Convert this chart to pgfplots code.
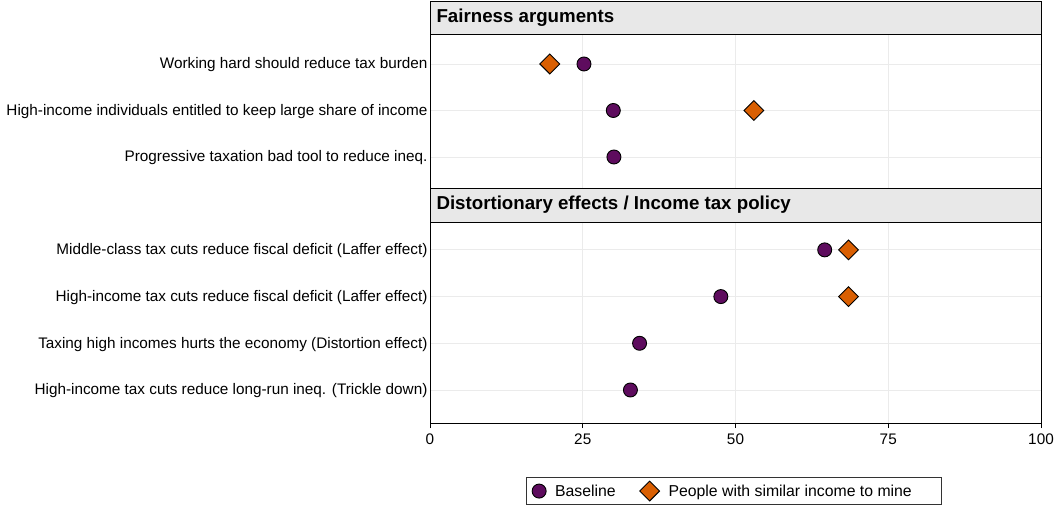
\documentclass[border=0pt]{standalone}
\usepackage{pgfplots}
\pgfplotsset{compat=1.18}
\usepackage{fontspec}
\setmainfont{Liberation Sans}
\definecolor{cpurple}{HTML}{5E0C5E}
\definecolor{corange}{HTML}{D95F02}
\definecolor{hdr}{HTML}{E8E8E8}
\definecolor{grd}{HTML}{EBEBEB}
\begin{document}
\begin{tikzpicture}
\path[use as bounding box] (0pt,0pt) rectangle (1054pt,509pt);
\pgfplotsset{
  panel/.style={
    scale only axis, width=611pt,
    xmin=0, xmax=100, xtick={0,25,50,75,100},
    xmajorgrids, ymajorgrids,
    major grid style={grd, line width=0.8pt},
    axis line style={black, line width=0.9pt},
    ytick style={draw=none},
    tick style={black, line width=0.8pt},
    tick align=outside, major tick length=5pt,
    ticklabel style={font=\fontsize{15.3}{17}\selectfont},
    yticklabel style={xshift=6pt, yshift=-1pt},
    xticklabel style={yshift=-2pt},
    /pgf/number format/assume math mode=true,
    clip=false,
  },
  base/.style={only marks, mark=*, mark size=7pt, mark options={fill=cpurple, draw=black, line width=0.9pt}},
  simi/.style={only marks, mark=square*, mark size=7pt, mark options={fill=corange, draw=black, line width=0.9pt, rotate=45}},
}
\begin{axis}[panel, at={(430pt,321pt)}, anchor=south west, height=154pt,
  ymin=0.333, ymax=3.645, ytick={1,2,3},
  xticklabels={}, xtick style={draw=none},
  yticklabels={Progressive taxation bad tool to reduce ineq.,
    High-income individuals entitled to keep large share of income,
    Working hard should reduce tax burden}]
\addplot[base] coordinates {(25.2,3) (30.0,2) (30.1,1)};
\addplot[simi] coordinates {(19.6,3) (53.0,2)};
\draw[fill=hdr, line width=0.9pt] (rel axis cs:0,1) rectangle ([yshift=33pt]rel axis cs:1,1);
\node[anchor=west, font=\fontsize{18.7}{20}\selectfont\bfseries] at ([xshift=3pt,yshift=16.5pt]rel axis cs:0,1) {Fairness arguments};
\end{axis}
\begin{axis}[panel, at={(430pt,86pt)}, anchor=south west, height=201pt,
  ymin=0.293, ymax=4.597, ytick={1,2,3,4},
  yticklabels={High-income tax cuts reduce long-run ineq. (Trickle down),
    Taxing high incomes hurts the economy (Distortion effect),
    High-income tax cuts reduce fiscal deficit (Laffer effect),
    Middle-class tax cuts reduce fiscal deficit (Laffer effect)},
  legend columns=2,
  legend style={at={(0.4975,-0.27)}, anchor=north, draw=black!80, line width=0.8pt,
    font=\fontsize{15.8}{17.5}\selectfont, inner xsep=6pt, inner ysep=3.5pt,
    /tikz/every odd column/.append style={column sep=7pt},
    /tikz/every even column/.append style={column sep=22pt}},
  legend cell align=left]
\addplot[base] coordinates {(64.6,4) (47.6,3) (34.3,2) (32.8,1)};
\addlegendentry{Baseline}
\addplot[simi] coordinates {(68.5,4) (68.5,3)};
\addlegendentry{People with similar income to mine\rule{22pt}{0pt}}
\draw[fill=hdr, line width=0.9pt] (rel axis cs:0,1) rectangle ([yshift=34pt]rel axis cs:1,1);
\node[anchor=west, font=\fontsize{18.7}{20}\selectfont\bfseries] at ([xshift=3pt,yshift=17pt]rel axis cs:0,1) {Distortionary effects / Income tax policy};
\end{axis}
\end{tikzpicture}
\end{document}
